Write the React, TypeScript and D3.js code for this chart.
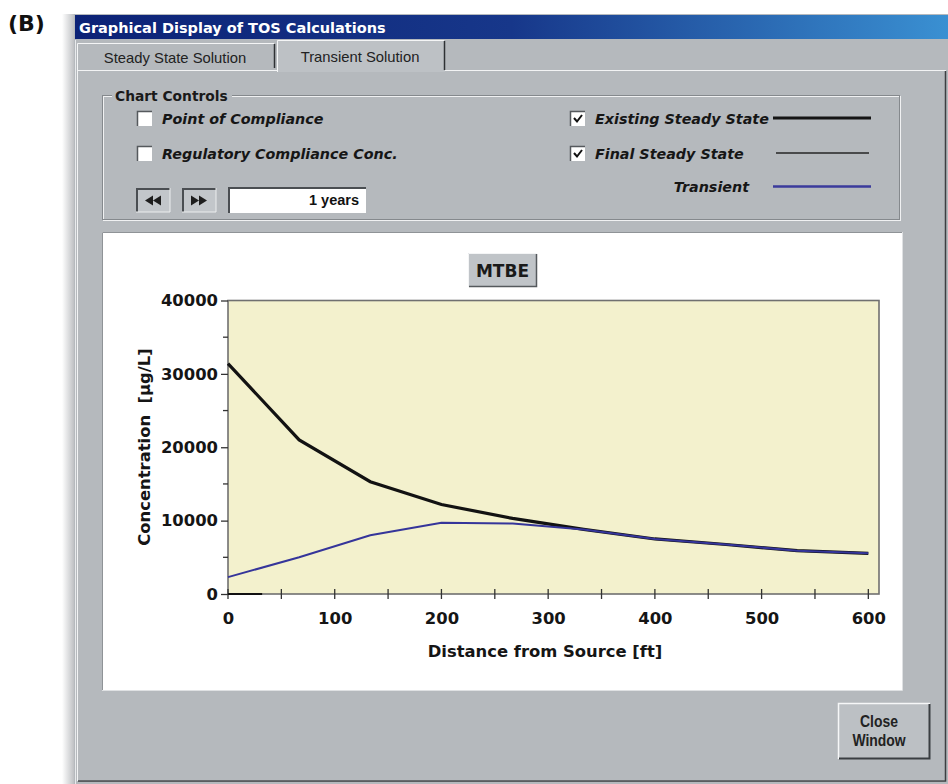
import React, { useEffect, useRef } from 'react';
import * as d3 from 'd3';

// distance from source [ft]
const distances = [0, 66.7, 133.3, 200, 266.7, 333.3, 400, 466.7, 533.3, 600];
// concentration [ug/L]
const existingSteady = [31400, 21000, 15300, 12200, 10300, 8800, 7500, 6750, 5900, 5550];
const transient = [2300, 5000, 8000, 9700, 9600, 8800, 7500, 6750, 5900, 5550];
const finalSteadyX = [0, 32];
const finalSteadyY = [0, 0];

const xTicks = [0, 100, 200, 300, 400, 500, 600];
const xMinorTicks = [50, 150, 250, 350, 450, 550];
const yTicks = [0, 10000, 20000, 30000, 40000];
const yMinorTicks = [5000, 15000, 25000, 35000];

const tabs = ['Steady State Solution', 'Transient Solution'];
const leftChecks = ['Point of Compliance', 'Regulatory Compliance Conc.'];
const rightChecks = ['Existing Steady State', 'Final Steady State', 'Transient'];

const GREY = '#b5b9bd';
const UI = 'DejaVu Sans, Verdana, sans-serif';
const ARIAL = 'Liberation Sans, Arial, sans-serif';

const App: React.FC = () => {
  const svgRef = useRef<SVGSVGElement>(null);

  useEffect(() => {
    if (!svgRef.current) return;
    const svg = d3.select(svgRef.current);
    svg.selectAll('*').remove();

    const defs = svg.append('defs');
    const tg = defs.append('linearGradient').attr('id', 'titleGrad');
    tg.append('stop').attr('offset', '0%').attr('stop-color', '#0c2276');
    tg.append('stop').attr('offset', '50%').attr('stop-color', '#17378a');
    tg.append('stop').attr('offset', '100%').attr('stop-color', '#3a90d2');
    const sg = defs.append('linearGradient').attr('id', 'shadowGrad');
    sg.append('stop').attr('offset', '0%').attr('stop-color', '#ffffff');
    sg.append('stop').attr('offset', '100%').attr('stop-color', '#bfc1c4');

    svg.append('rect').attr('width', 948).attr('height', 784).attr('fill', '#fff');

    // (B) label
    svg.append('text').attr('x', 8).attr('y', 31)
      .style('font-family', UI).style('font-weight', 'bold').style('font-size', '22px')
      .attr('fill', '#111').text('(B)');

    // window
    svg.append('rect').attr('x', 62).attr('y', 14).attr('width', 12).attr('height', 770).attr('fill', 'url(#shadowGrad)');
    svg.append('rect').attr('x', 74).attr('y', 14).attr('width', 880).attr('height', 775).attr('fill', GREY);
    svg.append('line').attr('x1', 75.5).attr('x2', 75.5).attr('y1', 40).attr('y2', 784).attr('stroke', '#e8eaec');
    svg.append('rect').attr('x', 75).attr('y', 15).attr('width', 873).attr('height', 24).attr('fill', 'url(#titleGrad)');
    svg.append('text').attr('x', 79).attr('y', 33)
      .style('font-family', UI).style('font-weight', 'bold').style('font-size', '14.5px')
      .attr('fill', '#fff').text('Graphical Display of TOS Calculations');

    // tab panel
    svg.append('rect').attr('x', 77.5).attr('y', 70.5).attr('width', 868).attr('height', 710)
      .attr('fill', GREY).attr('stroke', '#f2f3f4');
    svg.append('path').attr('d', 'M945.5,71 V781 H78').attr('fill', 'none').attr('stroke', '#3c3f42').attr('stroke-width', 1.5);

    // tabs
    const tabX = [[77, 275], [277, 445]];
    tabs.forEach((t, i) => {
      const [x0, x1] = tabX[i];
      const top = i === 1 ? 40 : 43;
      const bottom = i === 1 ? 72 : 70;
      svg.append('rect').attr('x', x0).attr('y', top).attr('width', x1 - x0).attr('height', bottom - top)
        .attr('fill', i === 1 ? '#bdc1c5' : GREY);
      svg.append('path').attr('d', `M${x0 + 0.5},${bottom} V${top + 0.5} H${x1 - 1}`)
        .attr('fill', 'none').attr('stroke', '#f4f5f6');
      svg.append('line').attr('x1', x1 - 0.5).attr('x2', x1 - 0.5).attr('y1', top + 1).attr('y2', bottom - 2)
        .attr('stroke', '#2e3134').attr('stroke-width', 1.5);
      svg.append('text').attr('x', (x0 + x1) / 2 - 1).attr('y', top + (i === 1 ? 22 : 20)).attr('text-anchor', 'middle')
        .style('font-family', ARIAL).style('font-size', '14.8px').attr('fill', '#222').text(t);
    });
    svg.append('line').attr('x1', 445).attr('x2', 945).attr('y1', 70.5).attr('y2', 70.5).attr('stroke', '#f2f3f4');

    // chart controls group box
    svg.append('rect').attr('x', 103.5).attr('y', 96.5).attr('width', 797).attr('height', 124)
      .attr('fill', 'none').attr('stroke', '#f0f1f2');
    svg.append('rect').attr('x', 102.5).attr('y', 95.5).attr('width', 797).attr('height', 124)
      .attr('fill', 'none').attr('stroke', '#85898d');
    svg.append('rect').attr('x', 112).attr('y', 90).attr('width', 120).attr('height', 12).attr('fill', GREY);
    svg.append('text').attr('x', 115).attr('y', 101)
      .style('font-family', UI).style('font-weight', 'bold').style('font-size', '13.8px')
      .attr('fill', '#1a1a1a').text('Chart Controls');

    const checkbox = (x: number, y: number, checked: boolean) => {
      svg.append('rect').attr('x', x).attr('y', y).attr('width', 15).attr('height', 15).attr('fill', '#fff');
      svg.append('path').attr('d', `M${x + 0.5},${y + 15} V${y + 0.5} H${x + 15}`)
        .attr('fill', 'none').attr('stroke', '#55595d').attr('stroke-width', 1.5);
      if (checked) {
        svg.append('path').attr('d', `M${x + 4},${y + 7} L${x + 7},${y + 10.5} L${x + 12},${y + 4}`)
          .attr('fill', 'none').attr('stroke', '#111').attr('stroke-width', 2);
      }
    };
    const labelText = (x: number, y: number, s: string, anchor = 'start') =>
      svg.append('text').attr('x', x).attr('y', y).attr('text-anchor', anchor)
        .style('font-family', UI).style('font-weight', 'bold').style('font-style', 'italic').style('font-size', '14.3px')
        .attr('fill', '#161616').text(s);

    leftChecks.forEach((s, i) => {
      checkbox(137, 111 + i * 35, false);
      labelText(162, 124 + i * 35, s);
    });
    checkbox(570, 111, true);
    labelText(595, 124, rightChecks[0]);
    checkbox(570, 146, true);
    labelText(595, 159, rightChecks[1]);
    labelText(749, 192, rightChecks[2], 'end');

    svg.append('line').attr('x1', 773).attr('x2', 871).attr('y1', 118).attr('y2', 118).attr('stroke', '#151515').attr('stroke-width', 3);
    svg.append('line').attr('x1', 776).attr('x2', 869).attr('y1', 153).attr('y2', 153).attr('stroke', '#262626').attr('stroke-width', 1.4);
    svg.append('line').attr('x1', 773).attr('x2', 871).attr('y1', 186.5).attr('y2', 186.5).attr('stroke', '#3b3b9c').attr('stroke-width', 2.5);

    // nav buttons + years field
    const navBtn = (x: number, dir: number) => {
      svg.append('rect').attr('x', x).attr('y', 188).attr('width', 34).attr('height', 24).attr('fill', '#c2c6ca');
      svg.append('path').attr('d', `M${x + 1},${212} V${189} H${x + 34}`).attr('fill', 'none').attr('stroke', '#4a4e52').attr('stroke-width', 2);
      svg.append('path').attr('d', `M${x + 34},${188} V${212} H${x}`).attr('fill', 'none').attr('stroke', '#eceeef');
      const cx = x + 17, cy = 200.5;
      const tri = (ox: number) => dir < 0
        ? `M${cx + ox + 5},${cy - 5} L${cx + ox - 3},${cy} L${cx + ox + 5},${cy + 5} Z`
        : `M${cx + ox - 5},${cy - 5} L${cx + ox + 3},${cy} L${cx + ox - 5},${cy + 5} Z`;
      svg.append('path').attr('d', dir < 0 ? tri(-5) + tri(3) : tri(-3) + tri(5)).attr('fill', '#1e1e1e');
    };
    navBtn(136, -1);
    navBtn(182, 1);
    svg.append('rect').attr('x', 228).attr('y', 187).attr('width', 138).attr('height', 26).attr('fill', '#fff');
    svg.append('path').attr('d', 'M229,213 V188 H366').attr('fill', 'none').attr('stroke', '#4a4e52').attr('stroke-width', 2);
    svg.append('text').attr('x', 359).attr('y', 205).attr('text-anchor', 'end')
      .style('font-family', ARIAL).style('font-weight', 'bold').style('font-size', '14.5px')
      .attr('fill', '#111').text('1 years');

    // white chart panel
    svg.append('rect').attr('x', 102).attr('y', 232).attr('width', 800).attr('height', 458).attr('fill', '#fff');
    svg.append('path').attr('d', 'M102.5,690 V232.5 H902').attr('fill', 'none').attr('stroke', '#8f9397');
    svg.append('path').attr('d', 'M902.5,232 V690.5 H102').attr('fill', 'none').attr('stroke', '#dfe1e3');

    // MTBE button
    svg.append('rect').attr('x', 468).attr('y', 253).attr('width', 69).attr('height', 34).attr('fill', '#c0c4c8');
    svg.append('path').attr('d', 'M468.5,287 V253.5 H537').attr('fill', 'none').attr('stroke', '#f4f5f6');
    svg.append('path').attr('d', 'M536.5,254 V286.5 H469').attr('fill', 'none').attr('stroke', '#55595d').attr('stroke-width', 1.5);
    svg.append('text').attr('x', 502.5).attr('y', 277).attr('text-anchor', 'middle')
      .style('font-family', UI).style('font-weight', 'bold').style('font-size', '17px')
      .attr('fill', '#1a1a1a').text('MTBE');

    // plot
    const x = d3.scaleLinear().domain([0, 610]).range([228, 879]);
    const y = d3.scaleLinear().domain([0, 40000]).range([594, 300.5]);

    svg.append('rect').attr('x', x(0)).attr('y', y(40000)).attr('width', x(610) - x(0)).attr('height', y(0) - y(40000))
      .attr('fill', '#f3f1cd').attr('stroke', '#707070').attr('stroke-width', 1.6);

    const tickStyle = (g: d3.Selection<SVGGElement, unknown, null, undefined>) => {
      g.select('.domain').remove();
      g.selectAll('line').attr('stroke', '#333').attr('stroke-width', 1.3);
      g.selectAll('text').style('font-family', UI).style('font-weight', 'bold').style('font-size', '16.4px').attr('fill', '#151515');
    };

    // x ticks crossing the axis
    const xAxis = svg.append('g').attr('transform', `translate(0,${y(0) + 5})`)
      .call(d3.axisBottom(x).tickValues(xTicks).tickSize(0).tickPadding(13).tickFormat(d3.format('d')));
    tickStyle(xAxis);
    svg.append('g').selectAll('line').data([...xTicks, ...xMinorTicks]).enter().append('line')
      .attr('x1', d => x(d)).attr('x2', d => x(d)).attr('y1', y(0) - 5).attr('y2', y(0) + 5)
      .attr('stroke', '#333').attr('stroke-width', 1.3);

    const yAxis = svg.append('g').attr('transform', `translate(${x(0)},0)`)
      .call(d3.axisLeft(y).tickValues(yTicks).tickSize(7).tickPadding(3).tickFormat(d3.format('d')));
    tickStyle(yAxis);
    svg.append('g').selectAll('line').data(yMinorTicks).enter().append('line')
      .attr('x1', x(0) - 5).attr('x2', x(0)).attr('y1', d => y(d)).attr('y2', d => y(d))
      .attr('stroke', '#333').attr('stroke-width', 1.3);

    // axis titles
    svg.append('text').attr('x', 545).attr('y', 657).attr('text-anchor', 'middle')
      .style('font-family', UI).style('font-weight', 'bold').style('font-size', '16.4px')
      .attr('fill', '#151515').text('Distance from Source [ft]');
    svg.append('text').attr('transform', 'translate(150,447) rotate(-90)').attr('text-anchor', 'middle')
      .style('font-family', UI).style('font-weight', 'bold').style('font-size', '16.4px')
      .attr('fill', '#151515').text('Concentration\u00a0\u00a0[\u00b5g/L]');

    // series
    const line = d3.line<[number, number]>().x(d => x(d[0])).y(d => y(d[1]));
    svg.append('path').datum(finalSteadyX.map((d, i) => [d, finalSteadyY[i]] as [number, number]))
      .attr('d', line).attr('fill', 'none').attr('stroke', '#111').attr('stroke-width', 2);
    svg.append('path').datum(distances.map((d, i) => [d, existingSteady[i]] as [number, number]))
      .attr('d', line).attr('fill', 'none').attr('stroke', '#121212').attr('stroke-width', 3.2);
    svg.append('path').datum(distances.map((d, i) => [d, transient[i]] as [number, number]))
      .attr('d', line).attr('fill', 'none').attr('stroke', '#35359a').attr('stroke-width', 2);

    // close button
    svg.append('rect').attr('x', 838).attr('y', 703).attr('width', 92).attr('height', 56).attr('fill', '#bcc0c4');
    svg.append('path').attr('d', 'M838.5,759 V703.5 H930').attr('fill', 'none').attr('stroke', '#f6f7f8').attr('stroke-width', 1.5);
    svg.append('path').attr('d', 'M929.5,704 V758.5 H839').attr('fill', 'none').attr('stroke', '#3a3e42').attr('stroke-width', 2);
    ['Close', 'Window'].forEach((s, i) => {
      svg.append('text').attr('transform', `translate(879,${727 + i * 19}) scale(0.82,1)`).attr('text-anchor', 'middle')
        .style('font-family', ARIAL).style('font-weight', 'bold')
        .style('font-size', '17px').attr('fill', '#222').text(s);
    });
  }, []);

  return (
    <div style={{ position: 'fixed', left: 0, top: 0 }}>
      <svg ref={svgRef} width={948} height={784} style={{ display: 'block' }} />
    </div>
  );
};

export default App;
